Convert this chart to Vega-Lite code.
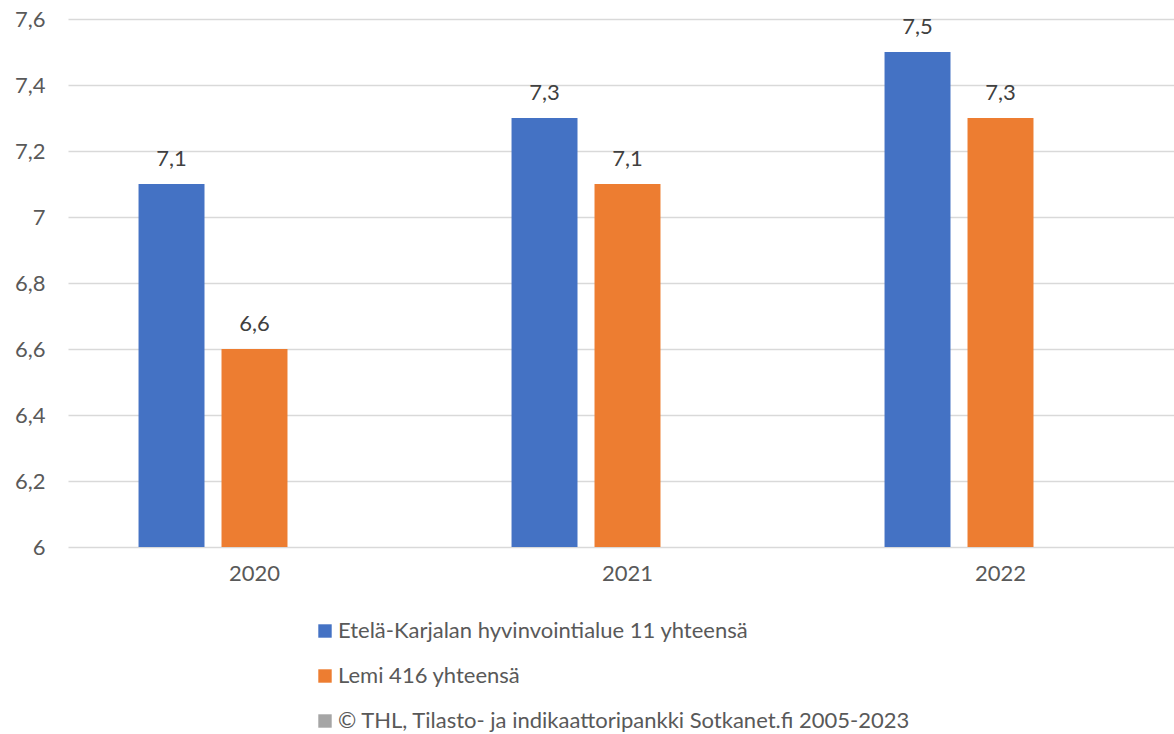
{
  "$schema": "https://vega.github.io/schema/vega-lite/v6.json",
  "autosize": {"type": "none"},
  "padding": {"left": 68, "top": 19, "right": 0, "bottom": 187},
  "width": 1106,
  "height": 528,
  "background": "#ffffff",
  "config": {
    "locale": {
      "number": {"decimal": ",", "thousands": "\u00a0", "grouping": [3], "currency": ["", "\u00a0€"]}
    },
    "view": {"stroke": null},
    "font": "Lato",
    "axis": {"labelFont": "Lato", "labelFontSize": 22, "labelColor": "#595959"}
  },
  "data": {
    "values": [
      {"vuosi": "2020", "alue": "Etelä-Karjalan hyvinvointialue 11 yhteensä", "arvo": 7.1},
      {"vuosi": "2020", "alue": "Lemi 416 yhteensä", "arvo": 6.6},
      {"vuosi": "2021", "alue": "Etelä-Karjalan hyvinvointialue 11 yhteensä", "arvo": 7.3},
      {"vuosi": "2021", "alue": "Lemi 416 yhteensä", "arvo": 7.1},
      {"vuosi": "2022", "alue": "Etelä-Karjalan hyvinvointialue 11 yhteensä", "arvo": 7.5},
      {"vuosi": "2022", "alue": "Lemi 416 yhteensä", "arvo": 7.3}
    ]
  },
  "encoding": {
    "x": {
      "field": "vuosi",
      "type": "nominal",
      "scale": {"paddingInner": 0, "paddingOuter": 0, "range": [0, 1119]},
      "axis": {"title": null, "domain": false, "ticks": false, "labelAngle": 0, "labelPadding": 16}
    },
    "xOffset": {
      "field": "alue",
      "type": "nominal",
      "scale": {
        "domain": [
          "Etelä-Karjalan hyvinvointialue 11 yhteensä",
          "Lemi 416 yhteensä",
          "© THL, Tilasto- ja indikaattoripankki Sotkanet.fi 2005-2023"
        ],
        "paddingInner": 0.205,
        "paddingOuter": 0.85
      }
    },
    "y": {
      "field": "arvo",
      "type": "quantitative",
      "scale": {"domain": [6, 7.6], "zero": false, "nice": false},
      "axis": {
        "title": null,
        "values": [6, 6.2, 6.4, 6.6, 6.8, 7, 7.2, 7.4, 7.6],
        "format": ".1~f",
        "domain": false,
        "ticks": false,
        "labelPadding": 23,
        "grid": true,
        "gridColor": "#d9d9d9",
        "gridWidth": 1.5
      }
    }
  },
  "layer": [
    {
      "mark": {"type": "bar", "clip": true},
      "encoding": {
        "color": {
          "field": "alue",
          "type": "nominal",
          "scale": {
            "domain": [
              "Etelä-Karjalan hyvinvointialue 11 yhteensä",
              "Lemi 416 yhteensä",
              "© THL, Tilasto- ja indikaattoripankki Sotkanet.fi 2005-2023"
            ],
            "range": ["#4472c4", "#ed7d31", "#a5a5a5"]
          },
          "legend": {
            "title": null,
            "orient": "none",
            "direction": "vertical",
            "legendX": 246,
            "legendY": 601,
            "padding": 0,
            "symbolType": "square",
            "symbolSize": 180,
            "symbolStrokeWidth": 0,
            "labelFont": "Lato",
            "labelFontSize": 22,
            "labelColor": "#595959",
            "labelOffset": 2,
            "rowPadding": 23,
            "labelLimit": 900
          }
        }
      }
    },
    {
      "mark": {
        "type": "text",
        "baseline": "alphabetic",
        "align": "center",
        "dy": -18,
        "font": "Lato",
        "fontSize": 22,
        "color": "#404040"
      },
      "encoding": {
        "text": {"field": "arvo", "type": "quantitative", "format": ".1f"}
      }
    }
  ]
}
